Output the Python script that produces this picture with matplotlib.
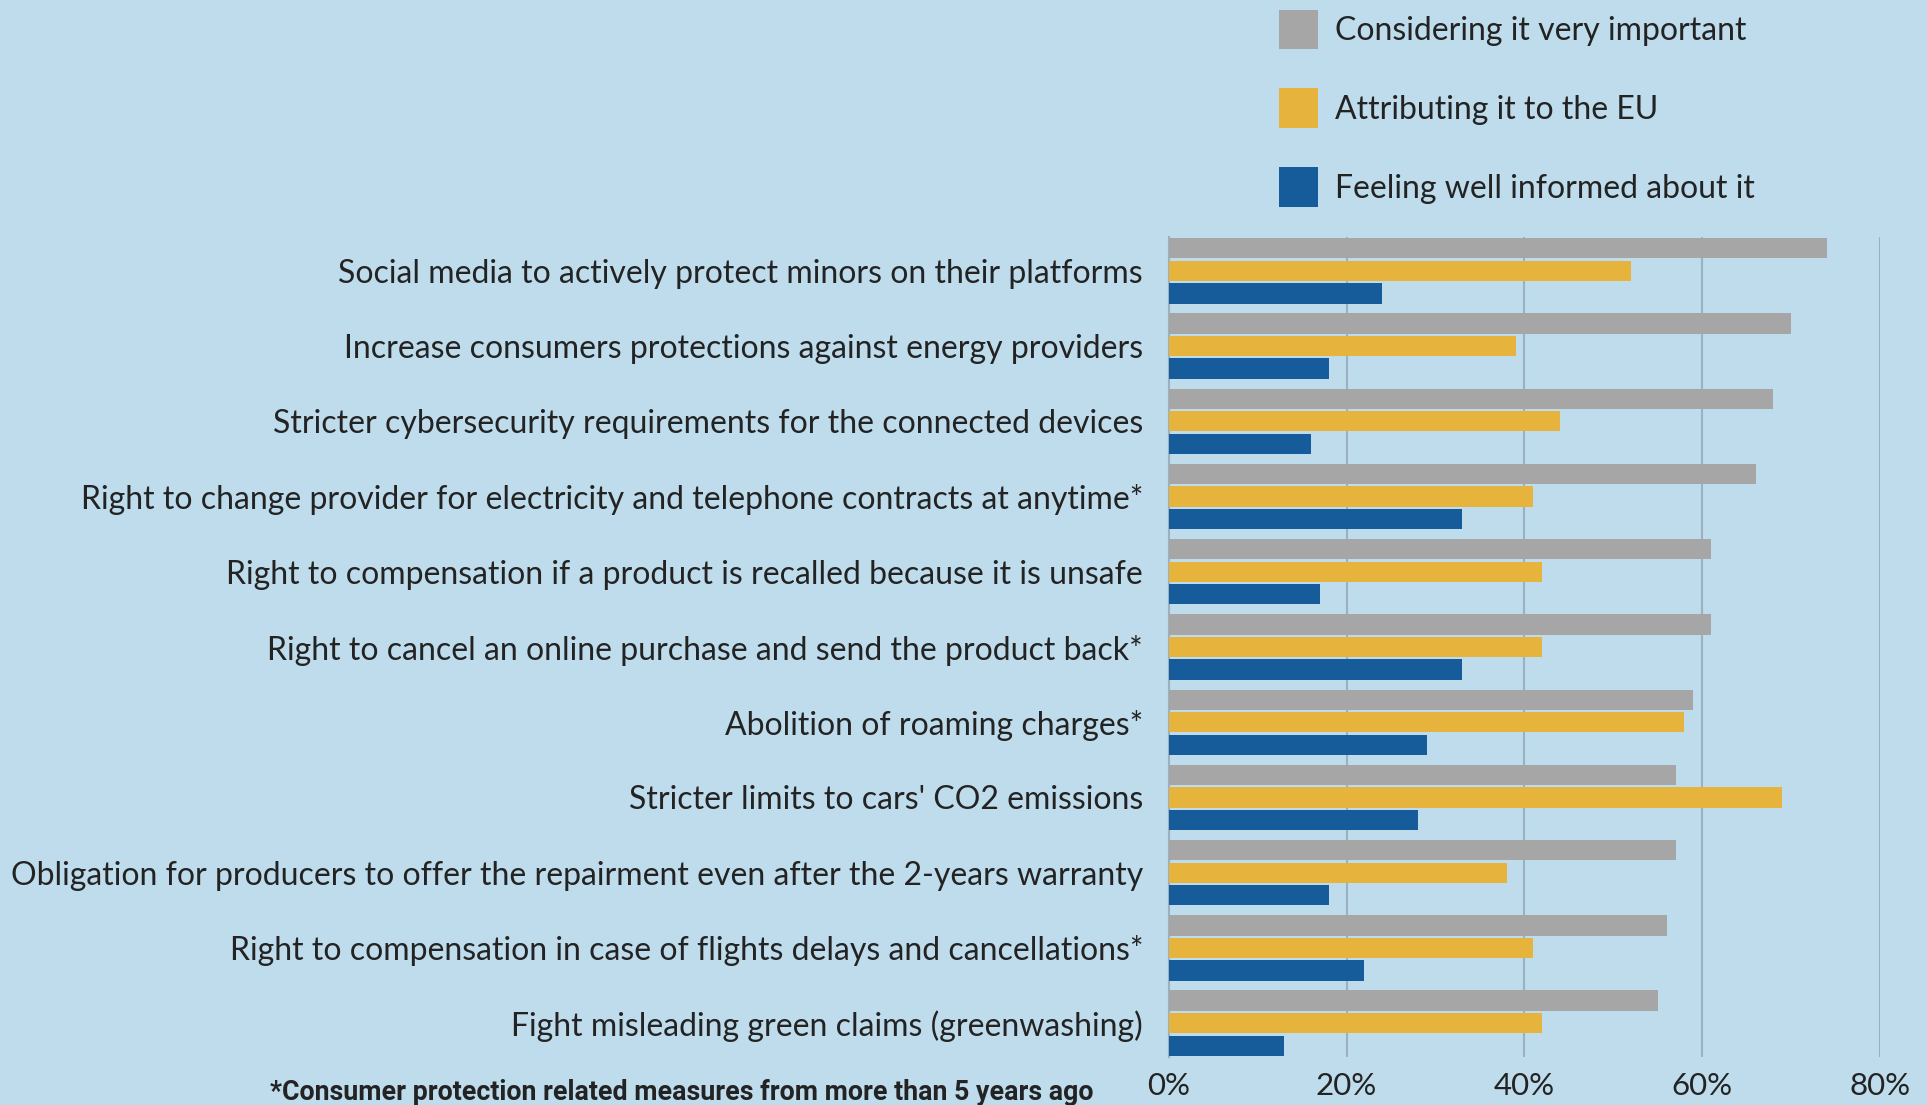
import matplotlib
matplotlib.use("Agg")
import matplotlib.pyplot as plt
import numpy as np
from matplotlib.patches import Patch

categories = [
    "Social media to actively protect minors on their platforms",
    "Increase consumers protections against energy providers",
    "Stricter cybersecurity requirements for the connected devices",
    "Right to change provider for electricity and telephone contracts at anytime*",
    "Right to compensation if a product is recalled because it is unsafe",
    "Right to cancel an online purchase and send the product back*",
    "Abolition of roaming charges*",
    "Stricter limits to cars' CO2 emissions",
    "Obligation for producers to offer the repairment even after the 2-years warranty",
    "Right to compensation in case of flights delays and cancellations*",
    "Fight misleading green claims (greenwashing)",
]
very_important = [74, 70, 68, 66, 61, 61, 59, 57, 57, 56, 55]
attributing_eu = [52, 39, 44, 41, 42, 42, 58, 69, 38, 41, 42]
well_informed = [24, 18, 16, 33, 17, 33, 29, 28, 18, 22, 13]
series_names = ["Considering it very important", "Attributing it to the EU", "Feeling well informed about it"]
xticks = [0, 20, 40, 60, 80]
xticklabels = ["0%", "20%", "40%", "60%", "80%"]
footnote = "*Consumer protection related measures from more than 5 years ago"

BG = "#BEDCEC"
colors = ["#A6A6A6", "#E6B43C", "#165C9A"]
TXT = "#232323"
FONT = "Lato"

W, H = 1927, 1105
fig = plt.figure(figsize=(W / 100, H / 100), dpi=100, facecolor=BG)
left, right, top, bottom = 1168.8, 1880, 237, 1057
ax = fig.add_axes([left / W, 1 - bottom / H, (right - left) / W, (bottom - top) / H])
ax.set_facecolor(BG)

y = np.arange(len(categories))
off = 0.3
h = 0.27
for i, (vals, c) in enumerate(zip([very_important, attributing_eu, well_informed], colors)):
    ax.barh(y + (i - 1) * off, vals, height=h, color=c, zorder=3, label=series_names[i])

ax.set_xlim(0, 80)
ax.set_ylim(10.45, -0.45)
ax.set_xticks(xticks)
ax.set_xticklabels(xticklabels, fontsize=22.5, color=TXT, family=FONT)
ax.set_yticks(y)
ax.set_yticklabels(categories, fontsize=23, color=TXT, family=FONT)
ax.tick_params(axis="both", length=0)
ax.tick_params(axis="y", pad=18.5)
ax.tick_params(axis="x", pad=11)
ax.grid(axis="x", color="#9BB1BF", linewidth=1.5, zorder=1)
for s in ["top", "right", "bottom"]:
    ax.spines[s].set_visible(False)
ax.spines["left"].set_color("#9BB1BF")
ax.spines["left"].set_linewidth(1.5)

handles = [Patch(facecolor=c, edgecolor="none") for c in colors]
leg = fig.legend(handles, series_names, loc="upper left",
                 bbox_to_anchor=(1279 / W, 1 - 9.5 / H), frameon=False,
                 prop={"family": FONT, "size": 23}, handlelength=1.22, handleheight=1.546,
                 handletextpad=0.53, labelspacing=1.22, borderaxespad=0, borderpad=0)
for t in leg.get_texts():
    t.set_color(TXT)

fig.text(1094 / W, 1 - 1093 / H, footnote, ha="right", va="center",
         fontsize=19.3, fontweight="bold", color=TXT, family="Roboto")

fig.savefig("out.png", dpi=100, facecolor=BG)
